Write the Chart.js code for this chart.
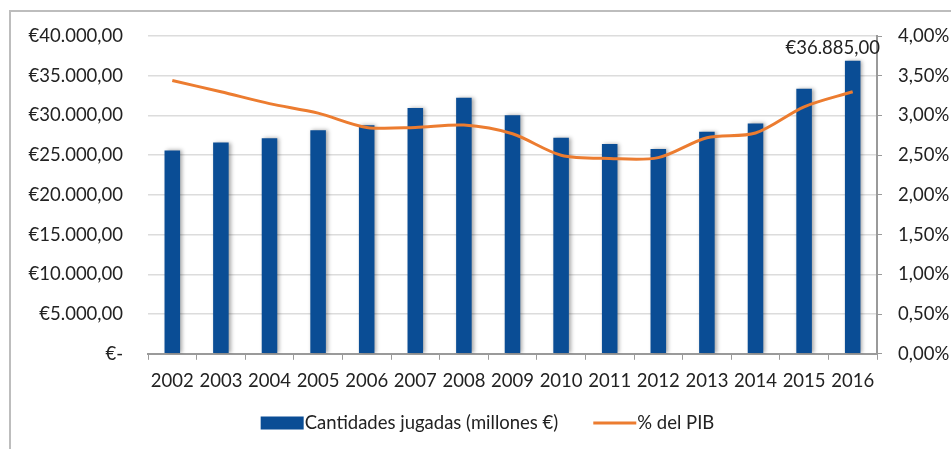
<!DOCTYPE html>
<html lang="es">
<head>
    <meta charset="UTF-8">
    <title>Cantidades jugadas y % del PIB</title>
    <script src="https://cdn.jsdelivr.net/npm/chart.js"></script>
    <style>
        body {
            margin: 0;
            background: #ffffff;
            font-family: Lato, "Open Sans", sans-serif;
        }
        .frame {
            position: absolute;
            left: 9px;
            top: 10px;
            width: 960px;
            height: 460px;
            border-top: 2px solid #bdbdbd;
            border-left: 2px solid #bdbdbd;
        }
        .chart-container {
            position: absolute;
            left: 0;
            top: 0;
            width: 951px;
            height: 449px;
        }
    </style>
</head>
<body>
    <div class="frame"></div>
    <div class="chart-container">
        <canvas id="gameChart"></canvas>
    </div>

    <script>
        const years = ['2002', '2003', '2004', '2005', '2006', '2007', '2008', '2009',
                       '2010', '2011', '2012', '2013', '2014', '2015', '2016'];
        // millones de euros
        const amounts = [25600, 26590, 27130, 28160, 28790, 30960, 32250, 30040,
                         27210, 26420, 25790, 27960, 29000, 33380, 36885];
        // % del PIB
        const gdpShare = [3.44, 3.30, 3.15, 3.03, 2.85, 2.85, 2.88, 2.77,
                          2.50, 2.46, 2.47, 2.72, 2.78, 3.11, 3.30];
        const amountLabel = 'Cantidades jugadas (millones €)';
        const shareLabel = '% del PIB';

        function euro(v) {
            if (v === 0) return '€-';
            const parts = v.toFixed(2).split('.');
            const whole = parts[0].replace(/\B(?=(\d{3})+(?!\d))/g, '.');
            return '€' + whole + ',' + parts[1];
        }

        function percent(v) {
            return v.toFixed(2).replace('.', ',') + '%';
        }

        const textColor = '#222222';
        const fontFamily = 'Lato, "Open Sans", sans-serif';
        const fontSize = 18.5;

        // label on the last bar, like the spreadsheet one
        const lastBarLabel = {
            id: 'lastBarLabel',
            afterDatasetsDraw(chart) {
                const meta = chart.getDatasetMeta(0);
                const bar = meta.data[meta.data.length - 1];
                if (!bar) return;
                const ctx = chart.ctx;
                ctx.save();
                ctx.font = fontSize + 'px ' + fontFamily;
                ctx.fillStyle = textColor;
                ctx.textAlign = 'center';
                ctx.textBaseline = 'middle';
                ctx.fillText(euro(amounts[amounts.length - 1]), bar.x - 20, bar.y - 13);
                ctx.restore();
            }
        };

        // soft shadow behind bars
        const barShadow = {
            id: 'barShadow',
            beforeDatasetDraw(chart, args) {
                if (args.index !== 0) return;
                const ctx = chart.ctx;
                ctx.save();
                ctx.shadowColor = 'rgba(0, 0, 0, 0.35)';
                ctx.shadowBlur = 4;
                ctx.shadowOffsetX = 2;
                ctx.shadowOffsetY = 0;
            },
            afterDatasetDraw(chart, args) {
                if (args.index !== 0) return;
                chart.ctx.restore();
            }
        };

        // legend drawn by hand: swatch sits right against its text
        const tightLegend = {
            id: 'tightLegend',
            afterDraw(chart) {
                const ctx = chart.ctx;
                const sets = chart.data.datasets;
                const swatch = 43, gapText = 1, gapItem = 35;
                ctx.save();
                ctx.font = fontSize + 'px ' + fontFamily;
                const widths = sets.map(ds => swatch + gapText + ctx.measureText(ds.label).width);
                const total = widths.reduce((a, b) => a + b, 0) + gapItem * (sets.length - 1);
                let x = chart.width / 2 + 12 - total / 2;
                const y = chart.height - 26;
                sets.forEach((ds, i) => {
                    if (ds.type === 'line') {
                        ctx.strokeStyle = ds.borderColor;
                        ctx.lineWidth = ds.borderWidth;
                        ctx.beginPath();
                        ctx.moveTo(x, y);
                        ctx.lineTo(x + swatch, y);
                        ctx.stroke();
                    } else {
                        ctx.fillStyle = ds.backgroundColor;
                        ctx.fillRect(x, y - 6.5, swatch, 13);
                    }
                    ctx.fillStyle = textColor;
                    ctx.textAlign = 'left';
                    ctx.textBaseline = 'middle';
                    ctx.fillText(ds.label, x + swatch + gapText, y);
                    x += widths[i] + gapItem;
                });
                ctx.restore();
            }
        };

        const ctx = document.getElementById('gameChart').getContext('2d');
        new Chart(ctx, {
            type: 'bar',
            data: {
                labels: years,
                datasets: [{
                    type: 'bar',
                    label: amountLabel,
                    data: amounts,
                    backgroundColor: '#0a4d95',
                    borderWidth: 0,
                    categoryPercentage: 0.32,
                    barPercentage: 1,
                    yAxisID: 'y',
                    order: 1
                }, {
                    type: 'line',
                    label: shareLabel,
                    data: gdpShare,
                    borderColor: '#ec7c30',
                    backgroundColor: '#ec7c30',
                    borderWidth: 3,
                    pointRadius: 0,
                    tension: 0.3,
                    fill: false,
                    yAxisID: 'y1',
                    order: 0
                }]
            },
            options: {
                responsive: true,
                maintainAspectRatio: false,
                animation: false,
                layout: {
                    padding: { top: 32, right: 0, left: 0, bottom: 47 }
                },
                plugins: {
                    tooltip: { enabled: false },
                    legend: { display: false }
                },
                scales: {
                    x: {
                        grid: {
                            display: true,
                            drawOnChartArea: false,
                            drawTicks: true,
                            tickLength: 6,
                            color: '#9a9a9a'
                        },
                        border: { display: true, color: '#9a9a9a', width: 2 },
                        ticks: {
                            color: textColor,
                            padding: 10,
                            maxRotation: 0,
                            font: { family: fontFamily, size: fontSize }
                        }
                    },
                    y: {
                        position: 'left',
                        min: 0,
                        max: 40000,
                        afterFit: (scale) => { scale.width = 148; },
                        grid: {
                            color: '#dcdcdc',
                            lineWidth: 1.5,
                            drawTicks: false
                        },
                        border: { display: false },
                        ticks: {
                            stepSize: 5000,
                            color: textColor,
                            padding: 25,
                            font: { family: fontFamily, size: fontSize },
                            callback: (v) => euro(v)
                        }
                    },
                    y1: {
                        position: 'right',
                        min: 0,
                        max: 4,
                        afterFit: (scale) => { scale.width = 74; },
                        grid: {
                            drawOnChartArea: false,
                            drawTicks: true,
                            tickLength: 5,
                            color: '#9a9a9a'
                        },
                        border: { display: true, color: '#9a9a9a', width: 2 },
                        ticks: {
                            stepSize: 0.5,
                            color: textColor,
                            padding: 16,
                            font: { family: fontFamily, size: fontSize },
                            callback: (v) => percent(v)
                        }
                    }
                }
            },
            plugins: [barShadow, lastBarLabel, tightLegend]
        });
    </script>
</body>
</html>
